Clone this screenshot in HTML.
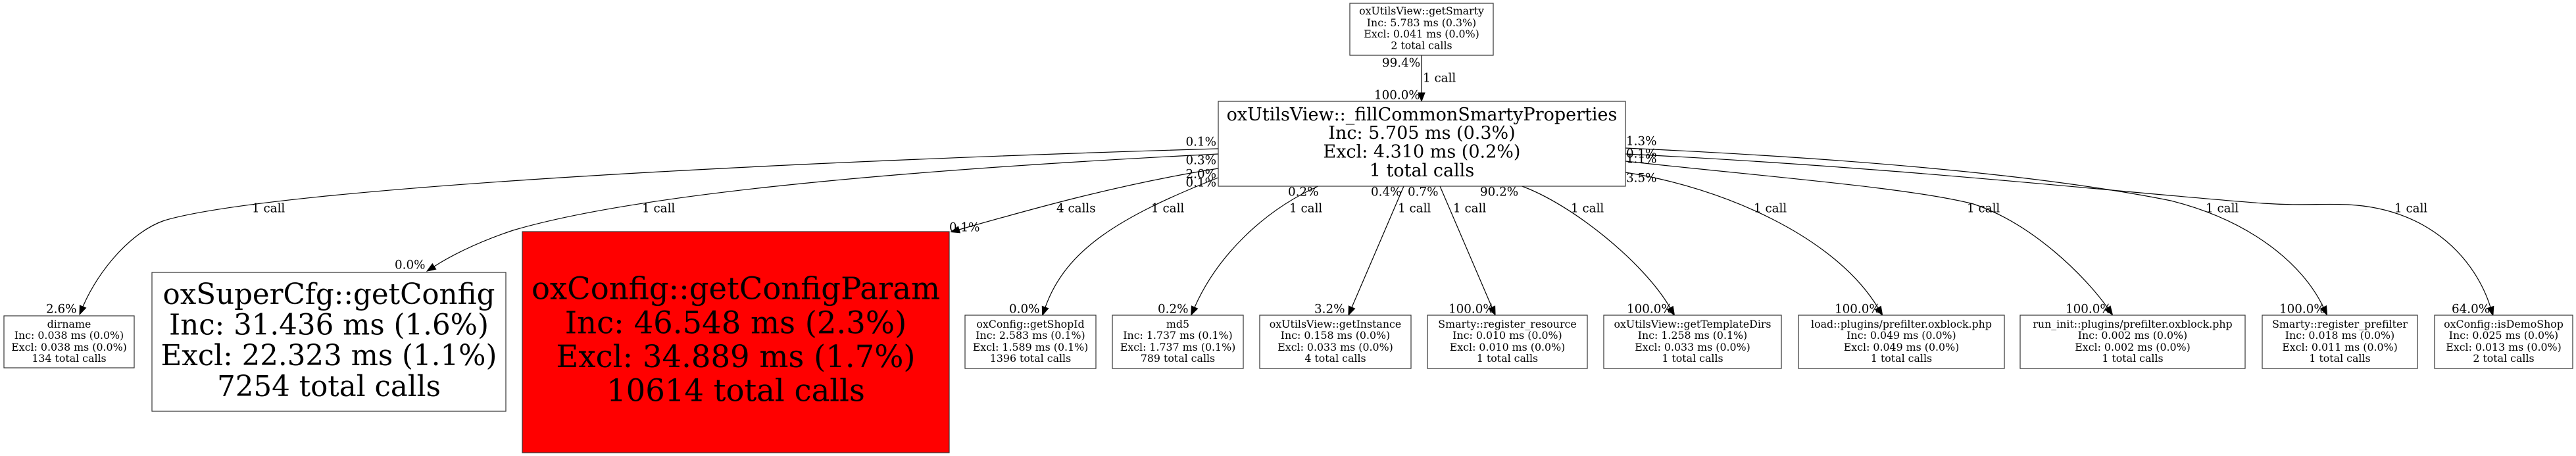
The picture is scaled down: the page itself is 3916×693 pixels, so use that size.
<!DOCTYPE html>
<html>
<head>
<meta charset="utf-8">
<style>
html,body{margin:0;padding:0;background:#fff;}
svg{display:block;}
text{font-family:"DejaVu Serif","Liberation Serif",serif;fill:#000;}
.n{font-size:15.8px;text-anchor:middle;}
.e{font-size:18.3px;}
.em{font-size:18.3px;text-anchor:end;}
.box{fill:#fff;stroke:#333;stroke-width:1.2;}
.ln{fill:none;stroke:#000;stroke-width:1.2;}
.ah{fill:#000;stroke:#000;stroke-width:1;}
</style>
</head>
<body>
<svg width="3916" height="693" viewBox="0 0 3916 693" xmlns="http://www.w3.org/2000/svg">
<rect x="0" y="0" width="3916" height="693" fill="#fff"/>

<!-- Edges -->
<path class="ln" d="M2161,84 L2161,141"/>
<polygon class="ah" points="2161,154 2156,141 2166,141"/>

<path class="ln" d="M1852,226 C1200,245 420,285 250,335 C200,352 150,410 126,466"/>
<polygon class="ah" points="121,478 121.4,464.1 130.6,467.9"/>

<path class="ln" d="M1852,234 C1300,262 950,300 780,350 C720,370 680,392 660,405"/>
<polygon class="ah" points="649.1,412.1 657.3,400.8 662.7,409.2"/>

<path class="ln" d="M1852,256 C1700,280 1560,320 1458,349"/>
<polygon class="ah" points="1445.5,352.5 1456.6,344.2 1459.4,353.8"/>

<path class="ln" d="M1852,270 C1700,330 1620,380 1589,467"/>
<polygon class="ah" points="1584.6,479.2 1584.3,465.3 1593.7,468.7"/>

<path class="ln" d="M2006,282 C1920,320 1850,390 1816,467"/>
<polygon class="ah" points="1810.7,478.9 1811.4,465 1820.6,469"/>

<path class="ln" d="M2134,283 C2112,335 2075,420 2055,467"/>
<polygon class="ah" points="2049.9,479 2050.4,465 2059.6,469"/>

<path class="ln" d="M2189,283 L2268,467"/>
<polygon class="ah" points="2273.1,478.9 2263.4,469 2272.6,465"/>

<path class="ln" d="M2311,282 C2390,310 2500,400 2539,468"/>
<polygon class="ah" points="2545.5,479.3 2534.7,470.5 2543.3,465.5"/>

<path class="ln" d="M2471,262 C2620,285 2790,360 2855,468"/>
<polygon class="ah" points="2861.7,479.1 2850.7,470.6 2859.3,465.4"/>

<path class="ln" d="M2471,245 C2700,270 2900,285 3000,310 C3090,340 3170,420 3204,468"/>
<polygon class="ah" points="3211.5,478.6 3199.9,470.9 3208.1,465.1"/>

<path class="ln" d="M2471,225 C2800,240 3100,265 3300,305 C3420,335 3500,400 3532,467"/>
<polygon class="ah" points="3537.6,478.7 3527.5,469.2 3536.5,464.8"/>

<path class="ln" d="M2471,234 C2900,255 3250,295 3440,309 C3500,313 3530,309 3570,311 C3700,318 3765,400 3786,467"/>
<polygon class="ah" points="3789.9,479.4 3781.2,468.5 3790.8,465.5"/>

<!-- Top node -->
<rect class="box" x="2052" y="5" width="218" height="79"/>
<text class="n" x="2161" y="22.2">oxUtilsView::getSmarty</text>
<text class="n" x="2161" y="39.8">Inc: 5.783 ms (0.3%)</text>
<text class="n" x="2161" y="57.2">Excl: 0.041 ms (0.0%)</text>
<text class="n" x="2161" y="74.5">2 total calls</text>

<!-- Main node -->
<rect class="box" x="1852" y="154" width="619" height="129"/>
<text x="2161.5" y="182.8" style="font-size:27px;text-anchor:middle">oxUtilsView::_fillCommonSmartyProperties</text>
<text x="2161.5" y="211.2" style="font-size:27px;text-anchor:middle">Inc: 5.705 ms (0.3%)</text>
<text x="2161.5" y="239.5" style="font-size:27px;text-anchor:middle">Excl: 4.310 ms (0.2%)</text>
<text x="2161.5" y="267.8" style="font-size:27px;text-anchor:middle">1 total calls</text>

<!-- dirname -->
<rect class="box" x="6" y="480" width="198" height="79"/>
<text class="n" x="105" y="497.8">dirname</text>
<text class="n" x="105" y="515.2">Inc: 0.038 ms (0.0%)</text>
<text class="n" x="105" y="532.8">Excl: 0.038 ms (0.0%)</text>
<text class="n" x="105" y="550.2">134 total calls</text>

<!-- getConfig -->
<rect class="box" x="231" y="414" width="538" height="211"/>
<text x="500" y="461.9" style="font-size:43.5px;text-anchor:middle">oxSuperCfg::getConfig</text>
<text x="500" y="508.5" style="font-size:43.5px;text-anchor:middle">Inc: 31.436 ms (1.6%)</text>
<text x="500" y="555.2" style="font-size:43.5px;text-anchor:middle">Excl: 22.323 ms (1.1%)</text>
<text x="500" y="601.9" style="font-size:43.5px;text-anchor:middle">7254 total calls</text>

<!-- getConfigParam (red) -->
<rect x="794" y="352" width="649" height="336" fill="#ff0000" stroke="#333" stroke-width="1.2"/>
<text x="1118.5" y="454.6" style="font-size:46.5px;text-anchor:middle">oxConfig::getConfigParam</text>
<text x="1118.5" y="506.3" style="font-size:46.5px;text-anchor:middle">Inc: 46.548 ms (2.3%)</text>
<text x="1118.5" y="558" style="font-size:46.5px;text-anchor:middle">Excl: 34.889 ms (1.7%)</text>
<text x="1118.5" y="609.6" style="font-size:46.5px;text-anchor:middle">10614 total calls</text>

<!-- getShopId -->
<rect class="box" x="1467" y="479" width="199" height="81"/>
<text class="n" x="1566.5" y="497.8">oxConfig::getShopId</text>
<text class="n" x="1566.5" y="515.2">Inc: 2.583 ms (0.1%)</text>
<text class="n" x="1566.5" y="532.8">Excl: 1.589 ms (0.1%)</text>
<text class="n" x="1566.5" y="550.2">1396 total calls</text>

<!-- md5 -->
<rect class="box" x="1691" y="479" width="199" height="81"/>
<text class="n" x="1790.5" y="497.8">md5</text>
<text class="n" x="1790.5" y="515.2">Inc: 1.737 ms (0.1%)</text>
<text class="n" x="1790.5" y="532.8">Excl: 1.737 ms (0.1%)</text>
<text class="n" x="1790.5" y="550.2">789 total calls</text>

<!-- getInstance -->
<rect class="box" x="1915" y="479" width="230" height="81"/>
<text class="n" x="2030" y="497.8">oxUtilsView::getInstance</text>
<text class="n" x="2030" y="515.2">Inc: 0.158 ms (0.0%)</text>
<text class="n" x="2030" y="532.8">Excl: 0.033 ms (0.0%)</text>
<text class="n" x="2030" y="550.2">4 total calls</text>

<!-- register_resource -->
<rect class="box" x="2170" y="479" width="243" height="81"/>
<text class="n" x="2291.5" y="497.8">Smarty::register_resource</text>
<text class="n" x="2291.5" y="515.2">Inc: 0.010 ms (0.0%)</text>
<text class="n" x="2291.5" y="532.8">Excl: 0.010 ms (0.0%)</text>
<text class="n" x="2291.5" y="550.2">1 total calls</text>

<!-- getTemplateDirs -->
<rect class="box" x="2438" y="479" width="270" height="81"/>
<text class="n" x="2573" y="497.8">oxUtilsView::getTemplateDirs</text>
<text class="n" x="2573" y="515.2">Inc: 1.258 ms (0.1%)</text>
<text class="n" x="2573" y="532.8">Excl: 0.033 ms (0.0%)</text>
<text class="n" x="2573" y="550.2">1 total calls</text>

<!-- load::plugins -->
<rect class="box" x="2734" y="479" width="313" height="81"/>
<text class="n" x="2890.5" y="497.8">load::plugins/prefilter.oxblock.php</text>
<text class="n" x="2890.5" y="515.2">Inc: 0.049 ms (0.0%)</text>
<text class="n" x="2890.5" y="532.8">Excl: 0.049 ms (0.0%)</text>
<text class="n" x="2890.5" y="550.2">1 total calls</text>

<!-- run_init -->
<rect class="box" x="3071" y="479" width="342" height="81"/>
<text class="n" x="3242" y="497.8">run_init::plugins/prefilter.oxblock.php</text>
<text class="n" x="3242" y="515.2">Inc: 0.002 ms (0.0%)</text>
<text class="n" x="3242" y="532.8">Excl: 0.002 ms (0.0%)</text>
<text class="n" x="3242" y="550.2">1 total calls</text>

<!-- register_prefilter -->
<rect class="box" x="3439" y="479" width="236" height="81"/>
<text class="n" x="3557" y="497.8">Smarty::register_prefilter</text>
<text class="n" x="3557" y="515.2">Inc: 0.018 ms (0.0%)</text>
<text class="n" x="3557" y="532.8">Excl: 0.011 ms (0.0%)</text>
<text class="n" x="3557" y="550.2">1 total calls</text>

<!-- isDemoShop -->
<rect class="box" x="3701" y="479" width="210" height="81"/>
<text class="n" x="3806" y="497.8">oxConfig::isDemoShop</text>
<text class="n" x="3806" y="515.2">Inc: 0.025 ms (0.0%)</text>
<text class="n" x="3806" y="532.8">Excl: 0.013 ms (0.0%)</text>
<text class="n" x="3806" y="550.2">2 total calls</text>

<!-- Top edge labels -->
<text class="e" x="2101" y="101.4">99.4%</text>
<text class="e" x="2163" y="124.4">1 call</text>
<text class="e" x="2089" y="150.4">100.0%</text>

<!-- Left tail labels -->
<text class="em" x="1849" y="221.4">0.1%</text>
<text class="em" x="1849" y="249.4">0.3%</text>
<text class="em" x="1849" y="270.4">2.0%</text>
<text class="em" x="1849" y="283.4">0.1%</text>

<!-- Right tail labels -->
<text class="e" x="2472" y="220.4">1.3%</text>
<text class="e" x="2472" y="239.4">0.1%</text>
<text class="e" x="2472" y="247.4">1.1%</text>
<text class="e" x="2472" y="276.4">3.5%</text>

<!-- Bottom tail labels -->
<text class="e" x="1958" y="297.4">0.2%</text>
<text class="e" x="2084" y="297.4">0.4%</text>
<text class="e" x="2140" y="297.4">0.7%</text>
<text class="e" x="2250" y="297.4">90.2%</text>

<!-- Call count labels -->
<text class="e" x="383" y="322.4">1 call</text>
<text class="e" x="976" y="322.4">1 call</text>
<text class="e" x="1606" y="322.4">4 calls</text>
<text class="e" x="1750" y="322.4">1 call</text>
<text class="e" x="1960" y="322.4">1 call</text>
<text class="e" x="2125" y="322.4">1 call</text>
<text class="e" x="2209" y="322.4">1 call</text>
<text class="e" x="2388" y="322.4">1 call</text>
<text class="e" x="2666" y="322.4">1 call</text>
<text class="e" x="2990" y="322.4">1 call</text>
<text class="e" x="3353" y="322.4">1 call</text>
<text class="e" x="3640" y="322.4">1 call</text>

<!-- Head labels -->
<text class="e" x="70" y="475.4">2.6%</text>
<text class="e" x="600" y="408.4">0.0%</text>
<text class="e" x="1443" y="351.4">0.1%</text>
<text class="e" x="1534" y="475.4">0.0%</text>
<text class="e" x="1760" y="475.4">0.2%</text>
<text class="e" x="1998" y="475.4">3.2%</text>
<text class="e" x="2202" y="475.4">100.0%</text>
<text class="e" x="2473" y="475.4">100.0%</text>
<text class="e" x="2789" y="475.4">100.0%</text>
<text class="e" x="3140" y="475.4">100.0%</text>
<text class="e" x="3465" y="475.4">100.0%</text>
<text class="e" x="3727" y="475.4">64.0%</text>
</svg>
</body>
</html>
